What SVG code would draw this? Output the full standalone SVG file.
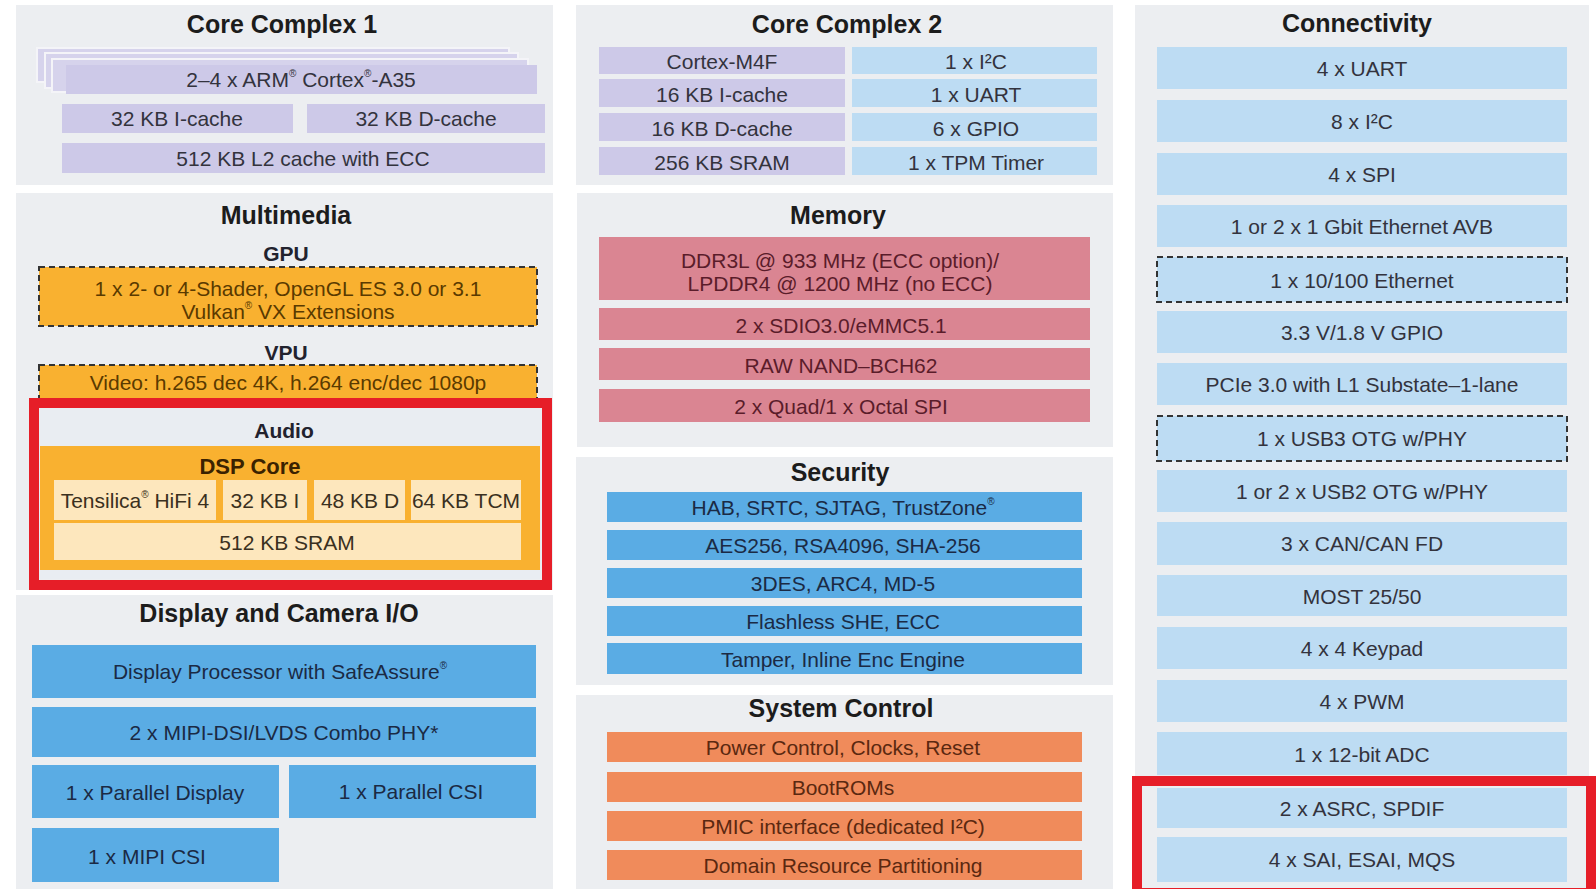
<svg xmlns="http://www.w3.org/2000/svg" width="1596" height="889" viewBox="0 0 1596 889">
<style>
.panel{fill:#eceef1}
.title{font-family:'Liberation Sans',Arial,sans-serif;font-weight:bold;font-size:25px;fill:#1c1c1c;text-anchor:middle;dominant-baseline:central}
.sub{font-family:'Liberation Sans',Arial,sans-serif;font-weight:bold;font-size:21px;fill:#22222e;text-anchor:middle;dominant-baseline:central}
.t{font-family:'Liberation Sans',Arial,sans-serif;font-size:21px;fill:#33333d;text-anchor:middle;dominant-baseline:central}
.tn{fill:#1b2a44}
.tm{fill:#5a1c2a}
.to{fill:#5a2810}
.tg{fill:#5a3a00}
.tc{fill:#3a3020}
.lav{fill:#cdc9e8}
.lavb{fill:#d6d3ec;stroke:#f4f4f8;stroke-width:2}
.lb{fill:#bddcf3}
.mb{fill:#5aace4}
.pk{fill:#da8592}
.or{fill:#f08b5b}
.gold{fill:#f9b130}
.cream{fill:#fde7bd}
.dash{stroke:#333;stroke-width:2;stroke-dasharray:6 4}
.red{fill:none;stroke:#e61e28;stroke-width:10}
</style>
<rect width="1596" height="889" fill="#ffffff"/>

<!-- Core Complex 1 -->
<g id="core-complex-1">
  <rect class="panel" x="16" y="5" width="537" height="180"/>
  <text class="title" x="282" y="24">Core Complex 1</text>
  <rect class="lavb" x="37" y="48" width="472" height="34"/>
  <rect class="lavb" x="45" y="53" width="473" height="35"/>
  <rect class="lavb" x="52" y="59" width="476" height="33"/>
  <rect class="lav" x="66" y="65" width="471" height="29"/>
  <text class="t" x="301" y="79">2–4 x ARM<tspan font-size="10" baseline-shift="super">®</tspan> Cortex<tspan font-size="10" baseline-shift="super">®</tspan>-A35</text>
  <rect class="lav" x="62" y="104" width="231" height="29"/>
  <text class="t" x="177" y="118">32 KB I-cache</text>
  <rect class="lav" x="307" y="104" width="238" height="29"/>
  <text class="t" x="426" y="118">32 KB D-cache</text>
  <rect class="lav" x="62" y="143" width="483" height="30"/>
  <text class="t" x="303" y="158">512 KB L2 cache with ECC</text>
</g>

<!-- Multimedia -->
<g id="multimedia">
  <rect class="panel" x="16" y="193" width="537" height="397"/>
  <text class="title" x="286" y="215">Multimedia</text>
  <text class="sub" x="286" y="253">GPU</text>
  <rect class="gold dash" x="39" y="267" width="498" height="59"/>
  <text class="t tg" x="288" y="288">1 x 2- or 4-Shader, OpenGL ES 3.0 or 3.1</text>
  <text class="t tg" x="288" y="311">Vulkan<tspan font-size="10" baseline-shift="super">®</tspan> VX Extensions</text>
  <text class="sub" x="286" y="352">VPU</text>
  <rect class="gold dash" x="39" y="365" width="498" height="40"/>
  <text class="t tg" x="288" y="382">Video: h.265 dec 4K, h.264 enc/dec 1080p</text>
</g>

<!-- Audio -->
<g id="audio">
  <rect x="39" y="408" width="502" height="171" fill="#e9edf2"/>
  <text class="sub" x="284" y="430">Audio</text>
  <rect class="gold" x="40" y="446" width="500" height="124"/>
  <text class="sub" x="250" y="466" style="font-size:22px;fill:#3a2200">DSP Core</text>
  <rect class="cream" x="54" y="480" width="162" height="40"/>
  <text class="t tc" x="135" y="500">Tensilica<tspan font-size="10" baseline-shift="super">®</tspan> HiFi 4</text>
  <rect class="cream" x="223" y="480" width="84" height="40"/>
  <text class="t tc" x="265" y="500">32 KB I</text>
  <rect class="cream" x="314" y="480" width="91" height="40"/>
  <text class="t tc" x="360" y="500">48 KB D</text>
  <rect class="cream" x="411" y="480" width="110" height="40"/>
  <text class="t tc" x="466" y="500">64 KB TCM</text>
  <rect class="cream" x="54" y="523" width="467" height="37"/>
  <text class="t tc" x="287" y="542">512 KB SRAM</text>
</g>

<!-- Display and Camera I/O -->
<g id="display-camera-io">
  <rect class="panel" x="16" y="595" width="537" height="294"/>
  <text class="title" x="279" y="613">Display and Camera I/O</text>
  <rect class="mb" x="32" y="645" width="504" height="53"/>
  <text class="t tn" x="280" y="671">Display Processor with SafeAssure<tspan font-size="10" baseline-shift="super">®</tspan></text>
  <rect class="mb" x="32" y="707" width="504" height="50"/>
  <text class="t tn" x="284" y="732">2 x MIPI-DSI/LVDS Combo PHY*</text>
  <rect class="mb" x="32" y="765" width="247" height="53"/>
  <text class="t tn" x="155" y="792">1 x Parallel Display</text>
  <rect class="mb" x="289" y="765" width="247" height="53"/>
  <text class="t tn" x="411" y="791">1 x Parallel CSI</text>
  <rect class="mb" x="32" y="828" width="247" height="54"/>
  <text class="t tn" x="147" y="856">1 x MIPI CSI</text>
</g>

<!-- Core Complex 2 -->
<g id="core-complex-2">
  <rect class="panel" x="576" y="5" width="537" height="180"/>
  <text class="title" x="847" y="24">Core Complex 2</text>
  <rect class="lav" x="599" y="47" width="246" height="27"/>
  <text class="t" x="722" y="61">Cortex-M4F</text>
  <rect class="lav" x="599" y="79" width="246" height="28"/>
  <text class="t" x="722" y="94">16 KB I-cache</text>
  <rect class="lav" x="599" y="113" width="246" height="28"/>
  <text class="t" x="722" y="128">16 KB D-cache</text>
  <rect class="lav" x="599" y="147" width="246" height="28"/>
  <text class="t" x="722" y="162">256 KB SRAM</text>
  <rect class="lb" x="852" y="47" width="245" height="27"/>
  <text class="t" x="976" y="61">1 x I²C</text>
  <rect class="lb" x="852" y="79" width="245" height="28"/>
  <text class="t" x="976" y="94">1 x UART</text>
  <rect class="lb" x="852" y="113" width="245" height="28"/>
  <text class="t" x="976" y="128">6 x GPIO</text>
  <rect class="lb" x="852" y="147" width="245" height="28"/>
  <text class="t" x="976" y="162">1 x TPM Timer</text>
</g>

<!-- Memory -->
<g id="memory">
  <rect class="panel" x="577" y="193" width="536" height="254"/>
  <text class="title" x="838" y="215">Memory</text>
  <rect class="pk" x="599" y="237" width="491" height="63"/>
  <text class="t tm" x="840" y="260">DDR3L @ 933 MHz (ECC option)/</text>
  <text class="t tm" x="840" y="283">LPDDR4 @ 1200 MHz (no ECC)</text>
  <rect class="pk" x="599" y="308" width="491" height="32"/>
  <text class="t tm" x="841" y="325">2 x SDIO3.0/eMMC5.1</text>
  <rect class="pk" x="599" y="348" width="491" height="32"/>
  <text class="t tm" x="841" y="365">RAW NAND–BCH62</text>
  <rect class="pk" x="599" y="389" width="491" height="33"/>
  <text class="t tm" x="841" y="406">2 x Quad/1 x Octal SPI</text>
</g>

<!-- Security -->
<g id="security">
  <rect class="panel" x="576" y="457" width="537" height="228"/>
  <text class="title" x="840" y="472">Security</text>
  <rect class="mb" x="607" y="492" width="475" height="30"/>
  <text class="t tn" x="843" y="507">HAB, SRTC, SJTAG, TrustZone<tspan font-size="10" baseline-shift="super">®</tspan></text>
  <rect class="mb" x="607" y="530" width="475" height="30"/>
  <text class="t tn" x="843" y="545">AES256, RSA4096, SHA-256</text>
  <rect class="mb" x="607" y="568" width="475" height="30"/>
  <text class="t tn" x="843" y="583">3DES, ARC4, MD-5</text>
  <rect class="mb" x="607" y="606" width="475" height="30"/>
  <text class="t tn" x="843" y="621">Flashless SHE, ECC</text>
  <rect class="mb" x="607" y="643" width="475" height="31"/>
  <text class="t tn" x="843" y="659">Tamper, Inline Enc Engine</text>
</g>

<!-- System Control -->
<g id="system-control">
  <rect class="panel" x="576" y="695" width="537" height="194"/>
  <text class="title" x="841" y="708">System Control</text>
  <rect class="or" x="607" y="732" width="475" height="30"/>
  <text class="t to" x="843" y="747">Power Control, Clocks, Reset</text>
  <rect class="or" x="607" y="772" width="475" height="30"/>
  <text class="t to" x="843" y="787">BootROMs</text>
  <rect class="or" x="607" y="811" width="475" height="30"/>
  <text class="t to" x="843" y="826">PMIC interface (dedicated I²C)</text>
  <rect class="or" x="607" y="850" width="475" height="30"/>
  <text class="t to" x="843" y="865">Domain Resource Partitioning</text>
</g>

<!-- Connectivity -->
<g id="connectivity">
  <rect class="panel" x="1135" y="5" width="454" height="884"/>
  <text class="title" x="1357" y="23">Connectivity</text>
  <rect class="lb" x="1157" y="47" width="410" height="42"/>
  <text class="t" x="1362" y="68">4 x UART</text>
  <rect class="lb" x="1157" y="100" width="410" height="42"/>
  <text class="t" x="1362" y="121">8 x I²C</text>
  <rect class="lb" x="1157" y="153" width="410" height="42"/>
  <text class="t" x="1362" y="174">4 x SPI</text>
  <rect class="lb" x="1157" y="205" width="410" height="42"/>
  <text class="t" x="1362" y="226">1 or 2 x 1 Gbit Ethernet AVB</text>
  <rect class="lb dash" x="1157" y="257" width="410" height="45"/>
  <text class="t" x="1362" y="280">1 x 10/100 Ethernet</text>
  <rect class="lb" x="1157" y="311" width="410" height="42"/>
  <text class="t" x="1362" y="332">3.3 V/1.8 V GPIO</text>
  <rect class="lb" x="1157" y="363" width="410" height="42"/>
  <text class="t" x="1362" y="384">PCIe 3.0 with L1 Substate–1-lane</text>
  <rect class="lb dash" x="1157" y="416" width="410" height="45"/>
  <text class="t" x="1362" y="438">1 x USB3 OTG w/PHY</text>
  <rect class="lb" x="1157" y="470" width="410" height="42"/>
  <text class="t" x="1362" y="491">1 or 2 x USB2 OTG w/PHY</text>
  <rect class="lb" x="1157" y="522" width="410" height="43"/>
  <text class="t" x="1362" y="543">3 x CAN/CAN FD</text>
  <rect class="lb" x="1157" y="575" width="410" height="41"/>
  <text class="t" x="1362" y="596">MOST 25/50</text>
  <rect class="lb" x="1157" y="627" width="410" height="42"/>
  <text class="t" x="1362" y="648">4 x 4 Keypad</text>
  <rect class="lb" x="1157" y="680" width="410" height="42"/>
  <text class="t" x="1362" y="701">4 x PWM</text>
  <rect class="lb" x="1157" y="732" width="410" height="43"/>
  <text class="t" x="1362" y="754">1 x 12-bit ADC</text>
  <rect class="lb" x="1157" y="788" width="410" height="40"/>
  <text class="t" x="1362" y="808">2 x ASRC, SPDIF</text>
  <rect class="lb" x="1157" y="837" width="410" height="45"/>
  <text class="t" x="1362" y="859">4 x SAI, ESAI, MQS</text>
</g>

<g id="connectors"></g>

<!-- Highlights -->
<g id="highlights">
  <rect class="red" x="34" y="403" width="513" height="182"/>
  <rect class="red" x="1137" y="781" width="454" height="112"/>
</g>
</svg>
